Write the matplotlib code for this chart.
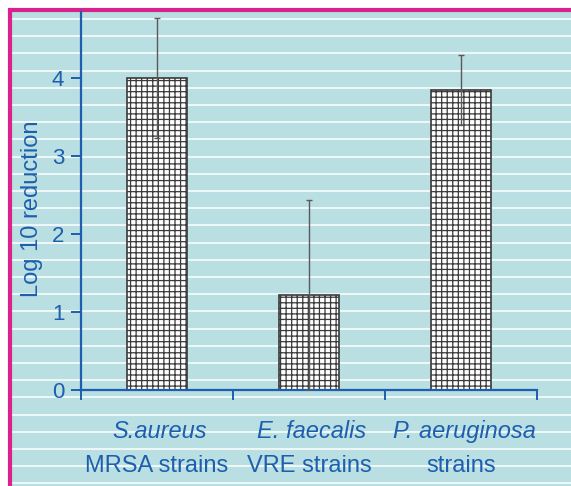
import numpy as np
import matplotlib.pyplot as plt
from matplotlib.patches import Rectangle

# data
species = ['S.aureus', 'E. faecalis', 'P. aeruginosa']
strains = ['MRSA strains', 'VRE strains', 'strains']
log_red = [4.0, 1.22, 3.85]
err = [0.77, 1.22, 0.45]

blue = '#1d5fae'
teal = '#b9dfe2'
magenta = '#d9238a'

plt.rcParams['font.family'] = ['Liberation Sans', 'DejaVu Sans']
plt.rcParams['hatch.color'] = '#939393'
plt.rcParams['hatch.linewidth'] = 0.9

W, H = 571, 486
fig = plt.figure(figsize=(W / 100, H / 100), dpi=100)

# background panel with stripes and magenta border
bg = fig.add_axes([0, 0, 1, 1])
bg.set_xlim(0, W)
bg.set_ylim(H, 0)
bg.axis('off')
bg.add_patch(Rectangle((8, 8), W, H, facecolor=teal, edgecolor='none'))
for yy in np.arange(19, H, 17.2):
    bg.plot([12, W], [yy, yy], color='white', lw=1.3, alpha=0.85)
bg.plot([10, 10], [8, H], color=magenta, lw=3, solid_capstyle='butt')
bg.plot([8, W], [10, 10], color=magenta, lw=3, solid_capstyle='butt')

# main axes
x0, x1, ybot, ytop = 81, 537, 390, 12
ax = fig.add_axes([x0 / W, (H - ybot) / H, (x1 - x0) / W, (ybot - ytop) / H])
ax.patch.set_alpha(0)
ax.set_ylim(0, (ybot - ytop) / 78)
ax.set_xlim(-0.5, 2.5)

pos = np.arange(len(species))
ax.bar(pos, log_red, width=0.39, facecolor='white', edgecolor='#3a3a3a',
       linewidth=1.2, hatch='+++', zorder=2)
ax.errorbar(pos, log_red, yerr=err, fmt='none', ecolor='#5a5a5a',
            elinewidth=1, capsize=2.5, capthick=1, zorder=3)

for s in ['top', 'right']:
    ax.spines[s].set_visible(False)
for s in ['left', 'bottom']:
    ax.spines[s].set_color(blue)
    ax.spines[s].set_linewidth(1.6)

ax.set_yticks([0, 1, 2, 3, 4])
ax.set_xticks([-0.5, 0.5, 1.5, 2.5])
ax.set_xticklabels([])
ax.tick_params(axis='y', colors=blue, labelsize=16, length=7, width=1.4,
               direction='out', pad=5)
ax.tick_params(axis='x', colors=blue, length=7, width=1.4, direction='out')
ax.set_ylabel('Log 10 reduction', color=blue, fontsize=17)
ax.yaxis.set_label_coords(-0.083, 0.48)

for i in pos:
    ax.text(i + 0.02, -0.53, species[i], color=blue, fontsize=17, style='italic',
            ha='center', va='center', transform=ax.transData)
    ax.text(i, -0.98, strains[i], color=blue, fontsize=17,
            ha='center', va='center', transform=ax.transData)

fig.savefig('out.png', dpi=100)
